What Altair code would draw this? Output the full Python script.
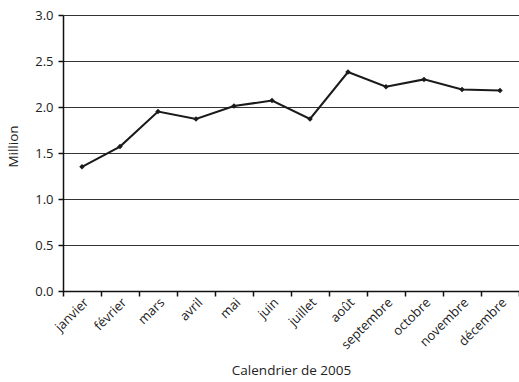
import altair as alt
import pandas as pd

mois = ["janvier", "février", "mars", "avril", "mai", "juin", "juillet",
        "août", "septembre", "octobre", "novembre", "décembre"]
valeurs = [1.35, 1.57, 1.95, 1.87, 2.01, 2.07, 1.87, 2.38, 2.22, 2.30, 2.19, 2.18]
graduations = [0.0, 0.5, 1.0, 1.5, 2.0, 2.5, 3.0]

df = pd.DataFrame({"mois": mois, "valeur": valeurs})

FONT = "Open Sans"
TXT = "#222"

x = alt.X(
    "mois:N",
    sort=mois,
    scale=alt.Scale(paddingInner=0, paddingOuter=0),
    axis=alt.Axis(
        title="Calendrier de 2005",
        labelAngle=-45,
        labelAlign="right",
        labelBaseline="middle",
        labelFont=FONT,
        labelFontSize=13,
        labelColor=TXT,
        labelPadding=4,
        labelOffset=4,
        tickBand="extent",
        tickSize=5,
        tickColor="#111",
        tickWidth=1.5,
        domainColor="#111",
        domainWidth=1.5,
        titleFont=FONT,
        titleFontSize=13.5,
        titleFontWeight="normal",
        titleColor=TXT,
        titlePadding=12,
        grid=False,
    ),
)

y = alt.Y(
    "valeur:Q",
    scale=alt.Scale(domain=[0, 3], nice=False),
    axis=alt.Axis(
        title="Million",
        values=graduations,
        format=".1f",
        labelFont=FONT,
        labelFontSize=13,
        labelColor=TXT,
        labelPadding=5,
        tickSize=5,
        tickColor="#111",
        tickWidth=1.5,
        domainColor="#111",
        domainWidth=1.5,
        grid=True,
        gridColor="#333",
        gridWidth=1.2,
        titleFont=FONT,
        titleFontSize=13.5,
        titleFontWeight="normal",
        titleColor=TXT,
        titleAngle=-90,
        titleAlign="center",
        titleBaseline="bottom",
        titleX=-43,
        titleY=131,
    ),
)

ligne = alt.Chart(df).mark_line(color="#1a1a1a", strokeWidth=2).encode(x=x, y=y)
points = alt.Chart(df).mark_point(
    shape="diamond", filled=True, color="#1a1a1a", size=30, opacity=1
).encode(x=x, y=y)

chart = (
    (ligne + points)
    .properties(
        width=456,
        height=276,
        autosize=alt.AutoSizeParams(type="none"),
        padding={"left": 63, "top": 15, "right": 0, "bottom": 91},
    )
    .configure_view(stroke=None)
    .configure(background="white")
)

chart.save("out.html", embed_options={"renderer": "svg", "actions": False})
